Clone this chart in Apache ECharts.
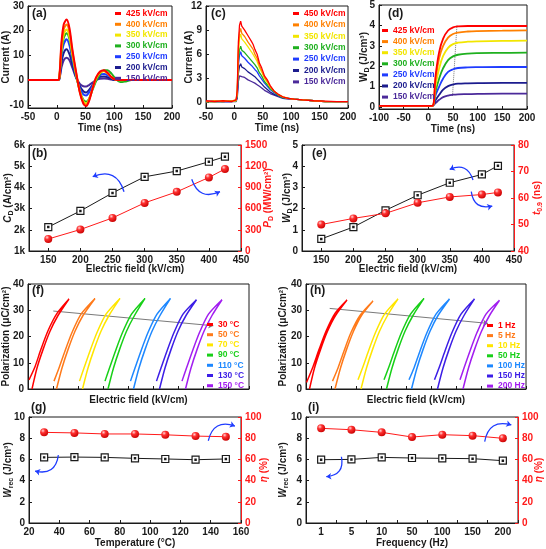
<!DOCTYPE html>
<html>
<head>
<meta charset="utf-8">
<script src="https://cdn.jsdelivr.net/npm/echarts@6/dist/echarts.min.js"></script>
<style>
  html, body { margin: 0; padding: 0; background: #fff; }
  #chart { width: 546px; height: 549px; }
</style>
</head>
<body>
<div id="chart"></div>
<script>
// ---- data ----
const fieldsA = ['425 kV/cm', '400 kV/cm', '350 kV/cm', '300 kV/cm', '250 kV/cm', '200 kV/cm', '150 kV/cm'];
const fieldsC = ['450 kV/cm', '400 kV/cm', '350 kV/cm', '300 kV/cm', '250 kV/cm', '200 kV/cm', '150 kV/cm'];
const fieldColors = ['#ff0000', '#ff8000', '#f2e600', '#1fb01f', '#1f3cff', '#1c1c8e', '#4b2a9a'];

// (a) discharge current, underdamped
const timeA = [-50, 0, 4, 8, 12, 17, 22, 27, 33, 40, 46, 51, 56, 62, 68, 75, 82, 88, 95, 102, 110, 118, 130, 200];
const currentA = [
  [0, 0, 0.5, 15, 22.5, 24.5, 21, 12.5, 4, -5, -9.5, -10.5, -8.5, -3.5, 1, 3.5, 4, 3, 1.2, 0.2, 0, 0, 0, 0],
  [0, 0, 0.5, 13.5, 20.5, 22.5, 19.5, 11.5, 3.5, -4.8, -9, -10, -8, -3.5, 0.8, 3.2, 3.8, 2.8, 1.1, 0.2, 0, 0, 0, 0],
  [0, 0, 0.4, 12, 18.5, 20.5, 17.5, 10.5, 3, -4.5, -8.5, -9.5, -7.8, -3.5, 0.5, 3, 3.6, 2.8, 1.2, 0.2, -0.1, 0, 0, 0],
  [0, 0, 0.4, 11, 17, 19, 16.5, 10, 2.5, -4.3, -8, -8.8, -7.5, -4, -0.5, 2.5, 4, 4, 2.6, 0.6, -0.8, -0.6, 0, 0],
  [0, 0, 0.3, 9.5, 14.5, 16.5, 14, 8.5, 2, -3.3, -5.8, -6.2, -5, -2.5, 0, 2, 2.5, 2, 1, 0.2, 0, 0, 0, 0],
  [0, 0, 0.2, 7, 11, 12.5, 10.5, 6.5, 1.5, -2.5, -4.5, -5, -4, -2, 0, 1.3, 1.5, 1.2, 0.5, 0, 0, 0, 0, 0],
  [0, 0, 0.2, 5, 8, 9, 8, 5, 1.2, -1.5, -2.5, -2.6, -2, -1, 0, 0.5, 0.6, 0.5, 0.2, 0, 0, 0, 0, 0]
];

// (c) discharge current, overdamped
const timeC = [-50, -35, -20, -5, 3, 5, 7, 9, 11, 13, 15, 18, 21, 24, 27, 30, 33, 36, 40, 44, 48, 53, 58, 63, 70, 77, 85, 95, 105, 120, 140, 160, 180, 200];
const currentC = [
  [0.2, 0.1, 0.2, 0.1, 0.3, 1.5, 7.5, 9.6, 10.1, 9.5, 9.7, 9.0, 8.9, 8.3, 8.4, 7.6, 7.2, 6.6, 6.0, 4.9, 4.3, 3.3, 2.8, 2.1, 1.4, 1.0, 0.7, 0.5, 0.4, 0.3, 0.2, 0.15, 0.1, 0.1],
  [0.1, 0.2, 0.1, 0.2, 0.3, 1.3, 6.8, 8.7, 9.2, 8.6, 8.8, 8.2, 8.1, 7.5, 7.6, 6.9, 6.6, 6.0, 5.5, 4.6, 4.0, 3.1, 2.6, 2.0, 1.4, 1.0, 0.7, 0.5, 0.4, 0.3, 0.2, 0.1, 0.1, 0.1],
  [0.1, 0.1, 0.2, 0.1, 0.2, 1.2, 6.2, 8.0, 8.5, 7.9, 8.1, 7.5, 7.4, 6.9, 7.0, 6.3, 6.1, 5.6, 5.1, 4.3, 3.8, 3.0, 2.5, 1.9, 1.4, 1.0, 0.7, 0.5, 0.4, 0.3, 0.2, 0.1, 0.1, 0.1],
  [0.1, 0.1, 0.1, 0.2, 0.2, 1.0, 5.2, 6.6, 7.0, 6.5, 6.7, 6.2, 6.1, 5.7, 5.8, 5.2, 5.0, 4.7, 4.3, 3.7, 3.3, 2.6, 2.2, 1.7, 1.3, 0.9, 0.6, 0.5, 0.4, 0.3, 0.2, 0.1, 0.1, 0.1],
  [0.1, 0.2, 0.1, 0.1, 0.2, 0.9, 4.6, 5.9, 6.3, 5.8, 6.0, 5.5, 5.4, 5.0, 5.1, 4.6, 4.4, 4.1, 3.8, 3.3, 2.9, 2.4, 2.0, 1.6, 1.2, 0.9, 0.6, 0.5, 0.4, 0.3, 0.2, 0.1, 0.1, 0.1],
  [0.1, 0.1, 0.1, 0.1, 0.2, 0.7, 3.6, 4.5, 4.8, 4.4, 4.6, 4.2, 4.1, 3.8, 3.9, 3.5, 3.4, 3.2, 2.9, 2.6, 2.3, 1.9, 1.6, 1.3, 1.0, 0.8, 0.6, 0.5, 0.4, 0.3, 0.2, 0.1, 0.1, 0.1],
  [0.1, 0.1, 0.1, 0.1, 0.1, 0.5, 2.6, 3.3, 3.5, 3.2, 3.4, 3.1, 3.0, 2.8, 2.9, 2.6, 2.5, 2.4, 2.2, 2.0, 1.8, 1.5, 1.3, 1.1, 0.9, 0.7, 0.5, 0.4, 0.4, 0.3, 0.2, 0.1, 0.1, 0.1]
];

// (d) discharged energy density
const timeD = [-100, 0, 8, 15, 22, 30, 40, 50, 60, 80, 100, 150, 200];
const energyD = [
  [0.05, 0.05, 0.05, 1.6, 2.7, 3.35, 3.75, 3.9, 3.95, 3.97, 3.97, 3.97, 3.97],
  [0.05, 0.05, 0.05, 1.4, 2.4, 3.0, 3.4, 3.58, 3.65, 3.7, 3.72, 3.74, 3.76],
  [0.05, 0.05, 0.05, 1.1, 1.9, 2.5, 2.9, 3.08, 3.15, 3.2, 3.22, 3.24, 3.25],
  [0.05, 0.05, 0.05, 0.8, 1.4, 1.9, 2.3, 2.48, 2.56, 2.62, 2.64, 2.65, 2.66],
  [0.05, 0.05, 0.05, 0.6, 1.0, 1.4, 1.72, 1.85, 1.91, 1.94, 1.95, 1.96, 1.96],
  [0.05, 0.05, 0.05, 0.35, 0.6, 0.85, 1.02, 1.1, 1.14, 1.16, 1.17, 1.18, 1.18],
  [0.05, 0.05, 0.05, 0.2, 0.35, 0.48, 0.56, 0.6, 0.62, 0.63, 0.64, 0.65, 0.65]
];
const t09Guide = [[49, 0.55], [58, 4]];

// (b), (e) vs electric field
const fieldB = [150, 200, 250, 300, 350, 400, 425];
const cdB = [2130, 2890, 3740, 4500, 4770, 5210, 5450];
const pdB = [170, 304, 468, 681, 837, 1041, 1160];
const wdE = [0.57, 1.13, 1.92, 2.63, 3.22, 3.61, 4.02];
const t09E = [50.0, 52.3, 54.2, 58.2, 60.4, 61.3, 62.1];

// (f) P-E loops vs temperature, (h) vs frequency
const tempLabels = ['30 °C', '50 °C', '70 °C', '90 °C', '110 °C', '130 °C', '150 °C'];
const freqLabels = ['1 Hz', '5 Hz', '10 Hz', '50 Hz', '100 Hz', '150 Hz', '200 Hz'];
const loopColors = ['#ff0000', '#ff7a1a', '#ffe600', '#18d018', '#1e88ff', '#3c1ee6', '#a21ef0'];
const loopsT = [
  [[4, 0], [9, 8], [15, 15], [22, 22], [30, 28], [41, 34.3], [29, 28.8], [20, 22.2], [13, 15.2], [7, 8.5], [1, 3.5]],
  [[28.5, 0], [34, 8], [40, 15], [47, 22], [55, 28], [67, 34.5], [53, 28.5], [44, 21.5], [37, 14.5], [31, 8], [26, 3]],
  [[54.5, 0], [60, 8], [66, 15], [73, 22], [81, 28], [92, 34.5], [78, 28.5], [69, 21.5], [62, 14.5], [56, 8], [51.5, 3]],
  [[80, 0], [85.5, 8], [91.5, 15], [98.5, 22], [106.5, 28], [117, 34.5], [103.5, 28.5], [94.5, 21.5], [87.5, 14.5], [81.5, 8], [77, 3]],
  [[105.5, 0], [111, 8], [117, 15], [124, 22], [132, 28], [142.5, 34.5], [129, 28.5], [120, 21.5], [113, 14.5], [107, 8], [102.5, 3]],
  [[131.5, 0], [137, 8], [143, 15], [150, 22], [158, 28], [168.5, 34], [155, 28.5], [146, 21.5], [139, 14.5], [133, 8], [128.5, 3]],
  [[157.5, 0], [163, 8], [169, 15], [176, 22], [184, 28], [194, 34], [180.5, 28.5], [171.5, 21.5], [164.5, 14.5], [158.5, 8], [154, 3]]
];
const loopsH = [
  [[3.5, 0], [8.5, 8], [14.5, 15], [21.5, 22], [29.5, 28], [41, 33.9], [29, 28.8], [20, 22], [13, 15], [7, 8.5], [0.5, 2.5]],
  [[29, 0], [34.5, 8], [40.5, 15], [47.5, 22], [55.5, 28], [67, 33.5], [54, 28], [45, 21.5], [38, 14.5], [32, 8], [26.5, 3]],
  [[55, 0], [60.5, 8], [66.5, 15], [73.5, 22], [81.5, 28], [92, 34.3], [78.5, 28.5], [69.5, 21.5], [62.5, 14.5], [56.5, 8], [52, 3.5]],
  [[80.5, 0], [86, 8], [92, 15], [99, 22], [107, 28], [118, 34.5], [104.5, 28.5], [95.5, 21.5], [88.5, 14.5], [82.5, 8], [78, 3.5]],
  [[105.5, 0], [111, 8], [117, 15], [124, 22], [132, 28], [143.5, 34.3], [130, 28.5], [121, 21.5], [114, 14.5], [108, 8], [103, 3.5]],
  [[131.5, 0], [137, 8], [143, 15], [150, 22], [158, 28], [168.5, 34.3], [155, 28.5], [146, 21.5], [139, 14.5], [133, 8], [128.5, 3.5]],
  [[157, 0], [162.5, 8], [168.5, 15], [175.5, 22], [183.5, 28], [193.5, 33.8], [180, 28.5], [171, 21.5], [164, 14.5], [158, 8], [154, 3.5]]
];
const trendF = [[25.3, 29.7], [185.3, 24.1]];
const trendH = [[23.7, 30.7], [182, 25]];

// (g) vs temperature, (i) vs frequency
const tempG = [30, 50, 70, 90, 110, 130, 150];
const wrecG = [6.19, 6.22, 6.19, 6.1, 6.04, 5.97, 6.04];
const etaG = [85.5, 85, 84, 84, 83.2, 82, 81.4];
const freqI = ['1', '5', '10', '50', '100', '150', '200'];
const wrecI = [5.97, 6.0, 6.19, 6.13, 6.1, 6.07, 5.88];
const etaI = [89.3, 88, 85.5, 81.1, 83.3, 82.4, 79.9];

// blue curved arrows: [start, end, curveness]
const arrowsB = [[[267.9, 3797], [219.2, 4505], -0.55], [[373.3, 4382], [417.3, 3797], -0.55]];
const arrowsE = [[[386.2, 3.35], [349.9, 3.85], -0.55], [[383.5, 2.80], [416.2, 2.12], -0.55]];
const arrowsG = [[[39.4, 6.4], [24, 4.9], 0.55], [[138.4, 7.76], [156, 9.15], 0.55]];
const arrowsI = [[[0.67, 6.25], [0.17, 4.37], 0.55], [[5.4, 7.67], [6.28, 9.25], 0.55]];

// ---- styling helpers ----
const FONT = '"Liberation Sans", Arial, sans-serif';
const INK = '#1a1a1a';
const RED = '#ff1a1a';

function rich(color) {
  return {
    i: { fontStyle: 'italic', fontWeight: 'bold', fontSize: 10, fontFamily: FONT, color, lineHeight: 13 },
    s: { fontWeight: 'bold', fontSize: 7, fontFamily: FONT, color, lineHeight: 8, verticalAlign: 'bottom' }
  };
}

function axis(o) {
  const color = o.color || INK;
  const a = {
    type: 'value',
    nameLocation: 'middle',
    nameMoveOverlap: false,
    axisLine: { show: true, onZero: false, lineStyle: { color, width: 1 } },
    axisTick: { show: true, inside: true, length: 3, lineStyle: { color } },
    splitLine: { show: false },
    axisLabel: {
      show: o.labels !== false, fontSize: 10, fontWeight: 'bold', fontFamily: FONT,
      color, margin: o.margin || 4, hideOverlap: false,
      formatter: o.formatter || (o.type === 'category' ? undefined : (v => String(v)))
    },
    nameTextStyle: { fontSize: 10, fontWeight: 'bold', fontFamily: FONT, color, lineHeight: 13, rich: rich(color) }
  };
  ['gridIndex', 'type', 'min', 'max', 'interval', 'name', 'nameGap', 'position', 'data', 'boundaryGap'].forEach(k => {
    if (o[k] !== undefined) a[k] = o[k];
  });
  return a;
}

const keep = step => v => (Math.abs(v / step - Math.round(v / step)) < 1e-6 ? String(v) : '');

const grids = [
  { left: 28, top: 6, width: 144, height: 102 },    // 0 a
  { left: 206, top: 6, width: 142, height: 102 },   // 1 c
  { left: 379, top: 5, width: 148, height: 104 },   // 2 d
  { left: 29, top: 145, width: 212, height: 106 },  // 3 b
  { left: 302, top: 145, width: 212, height: 106 }, // 4 e
  { left: 28, top: 284, width: 221, height: 105 },  // 5 f
  { left: 306, top: 284, width: 220, height: 105 }, // 6 h
  { left: 29, top: 417, width: 212, height: 106 },  // 7 g
  { left: 306, top: 417, width: 212, height: 106 }  // 8 i
].map(g => Object.assign(g, { show: true, borderColor: INK, borderWidth: 1, containLabel: false, outerBoundsMode: 'none' }));

const xAxes = [
  axis({ gridIndex: 0, min: -50, max: 200, interval: 50, name: 'Time (ns)', nameGap: 14 }),
  axis({ gridIndex: 1, min: -50, max: 200, interval: 50, name: 'Time (ns)', nameGap: 14 }),
  axis({ gridIndex: 2, min: -100, max: 200, interval: 50, name: 'Time (ns)', nameGap: 14 }),
  axis({ gridIndex: 3, min: 120, max: 450, name: 'Electric field (kV/cm)', nameGap: 12, formatter: keep(50) }),
  axis({ gridIndex: 4, min: 120, max: 450, name: 'Electric field (kV/cm)', nameGap: 12, formatter: keep(50) }),
  axis({ gridIndex: 5, min: 0, max: 221, interval: 25, labels: false, name: 'Electric field (kV/cm)', nameGap: 5 }),
  axis({ gridIndex: 6, min: 0, max: 220, interval: 25, labels: false, name: 'Electric field (kV/cm)', nameGap: 5 }),
  axis({ gridIndex: 7, min: 20, max: 160, interval: 20, name: 'Temperature (°C)', nameGap: 14 }),
  axis({ gridIndex: 8, type: 'category', data: freqI, boundaryGap: true, name: 'Frequency (Hz)', nameGap: 14 }),
  { gridIndex: 8, type: 'value', min: -0.5, max: 6.5, show: false }
];

const yAxes = [
  axis({ gridIndex: 0, min: -11.3, max: 30, name: 'Current (A)', nameGap: 15, formatter: keep(10) }),
  axis({ gridIndex: 1, min: -0.7, max: 12, name: 'Current (A)', nameGap: 10, formatter: keep(3) }),
  axis({ gridIndex: 2, min: -0.1, max: 5, name: 'W{s|D} (J/cm³)', nameGap: 8, formatter: keep(1) }),
  axis({ gridIndex: 3, min: 1000, max: 6000, interval: 1000, name: '{i|C}{s|D} (A/cm²)', nameGap: 14, formatter: v => (v / 1000) + 'k' }),
  axis({ gridIndex: 3, position: 'right', color: RED, min: 0, max: 1500, interval: 300, name: '{i|P}{s|D} (MW/cm²)', nameGap: 21 }),
  axis({ gridIndex: 4, min: 0, max: 5, interval: 1, name: '{i|W}{s|D} (J/cm³)', nameGap: 8 }),
  axis({ gridIndex: 4, position: 'right', color: RED, min: 40, max: 80, interval: 10, name: '{i|t}{s|0.9} (ns)', nameGap: 17 }),
  axis({ gridIndex: 5, min: 0, max: 40, interval: 10, name: 'Polarization (μC/cm²)', nameGap: 15 }),
  axis({ gridIndex: 6, min: 0, max: 40, interval: 10, name: 'Polarization (μC/cm²)', nameGap: 16 }),
  axis({ gridIndex: 7, min: 0, max: 10, interval: 2, name: '{i|W}{s|rec} (J/cm³)', nameGap: 14 }),
  axis({ gridIndex: 7, position: 'right', color: RED, min: 0, max: 100, interval: 20, name: '{i|η} (%)', nameGap: 17 }),
  axis({ gridIndex: 8, min: 0, max: 10, interval: 2, name: '{i|W}{s|rec} (J/cm³)', nameGap: 16 }),
  axis({ gridIndex: 8, position: 'right', color: RED, min: 0, max: 100, interval: 20, name: '{i|η} (%)', nameGap: 15 })
];

const series = [];

function addCurves(names, colors, xs, rows, xi, width, smooth) {
  // draw weakest field first so the red curve ends on top
  for (let k = names.length - 1; k >= 0; k--) {
    series.push({
      name: names[k], type: 'line', xAxisIndex: xi, yAxisIndex: xi,
      data: xs.map((x, j) => [x, rows[k][j]]),
      showSymbol: false, smooth, silent: true,
      lineStyle: { width, color: colors[k] }, itemStyle: { color: colors[k] }
    });
  }
}
addCurves(fieldsA, fieldColors, timeA, currentA, 0, 2, 0.3);
addCurves(fieldsC, fieldColors, timeC, currentC, 1, 1.3, false);
addCurves(fieldsA, fieldColors, timeD, energyD, 2, 1.8, 0.4);

function addLoops(names, loops, xi, yi) {
  loops.forEach((pts, k) => {
    series.push({
      name: names[k], type: 'line', xAxisIndex: xi, yAxisIndex: yi, data: pts,
      showSymbol: false, smooth: 0.25, silent: true,
      lineStyle: { width: 1.5, color: loopColors[k] }, itemStyle: { color: loopColors[k] }
    });
  });
}
addLoops(tempLabels, loopsT, 5, 7);
addLoops(freqLabels, loopsH, 6, 8);

function guide(xi, yi, pts, type, arrow) {
  series.push({
    type: 'lines', coordinateSystem: 'cartesian2d', xAxisIndex: xi, yAxisIndex: yi, silent: true,
    symbol: arrow ? ['none', 'arrow'] : 'none', symbolSize: 5,
    lineStyle: { color: '#7a7a7a', width: 1, type, opacity: 1 },
    data: [{ coords: pts }]
  });
}
guide(2, 2, t09Guide, 'dotted', false);
guide(5, 7, trendF, 'solid', true);
guide(6, 8, trendH, 'solid', true);

function curvedArrows(xi, yi, arcs) {
  series.push({
    type: 'lines', coordinateSystem: 'cartesian2d', xAxisIndex: xi, yAxisIndex: yi, silent: true,
    symbol: ['none', 'arrow'], symbolSize: 5, z: 5,
    lineStyle: { color: '#1f3cff', width: 1.3, opacity: 1 },
    data: arcs.map(a => ({ coords: [a[0], a[1]], lineStyle: { curveness: a[2] } }))
  });
}

// open square with a centre dot (Origin style) and shaded red ball
const SQUARE = 'path://M0,0H10V10H0Z M4.1,4.1H5.9V5.9H4.1Z';
const ball = () => new echarts.graphic.RadialGradient(0.35, 0.3, 0.75, [
  { offset: 0, color: '#ffd6d6' }, { offset: 0.35, color: '#ff3030' }, { offset: 1, color: '#c80000' }
]);

function blackSquares(xi, yi, xs, ys) {
  series.push({
    type: 'line', xAxisIndex: xi, yAxisIndex: yi, data: xs.map((x, j) => [x, ys[j]]),
    symbol: SQUARE, symbolSize: 7, showSymbol: true, silent: true, z: 3,
    lineStyle: { color: INK, width: 1 },
    itemStyle: { color: '#fff', borderColor: INK, borderWidth: 1.2 }
  });
}
function redBalls(xi, yi, xs, ys) {
  series.push({
    type: 'line', xAxisIndex: xi, yAxisIndex: yi, data: xs.map((x, j) => [x, ys[j]]),
    symbol: 'circle', symbolSize: 8, showSymbol: true, silent: true, z: 3,
    lineStyle: { color: RED, width: 1 },
    itemStyle: { color: ball(), borderWidth: 0 }
  });
}

blackSquares(3, 3, fieldB, cdB);
redBalls(3, 4, fieldB, pdB);
blackSquares(4, 5, fieldB, wdE);
redBalls(4, 6, fieldB, t09E);
blackSquares(7, 9, tempG, wrecG);
redBalls(7, 10, tempG, etaG);
blackSquares(8, 11, freqI, wrecI);
redBalls(8, 12, freqI, etaI);
curvedArrows(3, 3, arrowsB);
curvedArrows(4, 5, arrowsE);
curvedArrows(7, 9, arrowsG);
curvedArrows(9, 11, arrowsI);

function legend(names, colors, left, top, gap) {
  return {
    orient: 'vertical', left, top, padding: 0, itemGap: gap,
    itemWidth: 6, itemHeight: 3, icon: 'rect', selectedMode: false,
    textStyle: { fontSize: 8.5, fontWeight: 'bold', fontFamily: FONT },
    data: names.map((n, i) => ({ name: n, textStyle: { color: colors[i] } }))
  };
}

const panelLabels = [
  ['(a)', 32, 8], ['(c)', 211, 8], ['(d)', 388, 8],
  ['(b)', 32, 148], ['(e)', 312, 148],
  ['(f)', 32, 285], ['(h)', 310, 285],
  ['(g)', 31, 402], ['(i)', 308, 402]
];

const chart = echarts.init(document.getElementById('chart'));
chart.setOption({
  animation: false,
  backgroundColor: '#fff',
  grid: grids,
  xAxis: xAxes,
  yAxis: yAxes,
  legend: [
    legend(fieldsA, fieldColors, 115, 9, 1.8),
    legend(fieldsC, fieldColors, 293, 9, 2.4),
    legend(fieldsA, fieldColors, 382, 26, 2.1),
    legend(tempLabels, loopColors, 207, 320, 1.2),
    legend(freqLabels, loopColors, 487, 321, 1.1)
  ],
  graphic: panelLabels.map(p => ({
    type: 'text', left: p[1], top: p[2], z: 10,
    style: { text: p[0], font: 'bold 12px ' + FONT, fill: INK }
  })),
  series
});
</script>
</body>
</html>
